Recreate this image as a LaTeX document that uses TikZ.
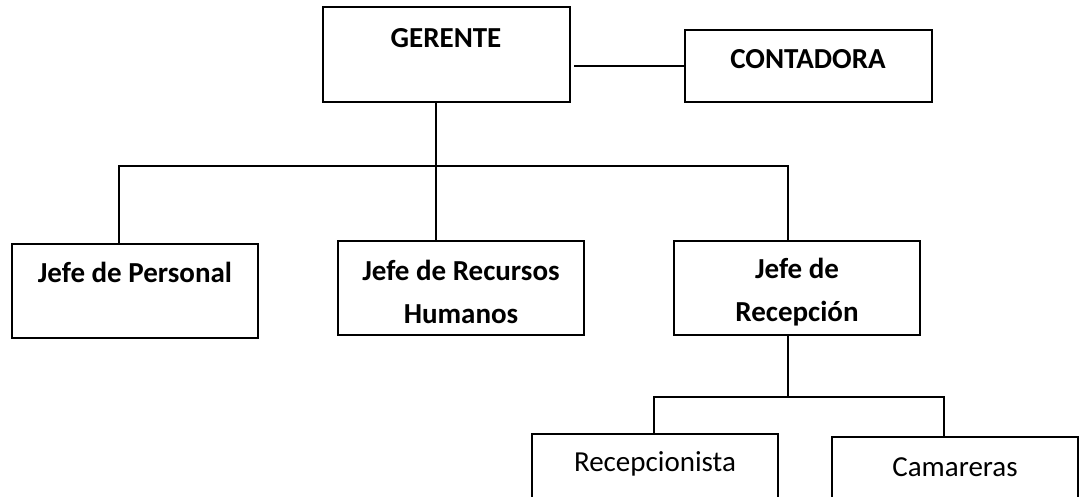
\documentclass[tikz,border=0pt]{standalone}
\usepackage{fontspec}
\setmainfont{Carlito}
\begin{document}
\begin{tikzpicture}[x=1pt,y=-1pt,
  box/.style={draw=black,line width=2pt,rectangle,inner sep=0pt,outer sep=0pt,anchor=north west},
  conn/.style={draw=black,line width=1.6pt},
  bt/.style={font=\fontsize{29}{43}\selectfont\bfseries,align=center,inner sep=0pt},
  rt/.style={font=\fontsize{29}{43}\selectfont,align=center,inner sep=0pt}]
\useasboundingbox (0,0) rectangle (1082,497);
\clip (0,0) rectangle (1082,497);
% boxes
\node[box,minimum width=247pt,minimum height=95pt] (ger) at (323,7) {};
\node[box,minimum width=247pt,minimum height=72pt] (cont) at (685,30) {};
\node[box,minimum width=246pt,minimum height=94pt] (pers) at (12,244) {};
\node[box,minimum width=246pt,minimum height=94pt] (rrhh) at (338,241) {};
\node[box,minimum width=246pt,minimum height=94pt] (recp) at (674,241) {};
\node[box,minimum width=246pt,minimum height=90pt] (rcst) at (532,434) {};
\node[box,minimum width=246pt,minimum height=90pt] (cama) at (832,437) {};
% texts
\node[bt] (tger) at (446,38) {GERENTE};
\node[bt] (tcont) at (808,59) {CONTADORA};
\node[bt] (tpers) at (135,272) {Jefe de Personal};
\node[bt] (trrhh) at (461,292) {Jefe de Recursos\\Humanos};
\node[bt] (trecp) at (797,292) {Jefe de\\Recepción};
\node[rt] (trcst) at (655,464) {Recepcionista};
\node[rt] (tcama) at (955,467) {Camareras};
% connector coordinates
\coordinate (gc) at (574,66);
\coordinate (gb) at (ger.south -| 436,0);
\coordinate (bl) at (119,166);
\coordinate (br) at (788,166);
\coordinate (rb) at (recp.south -| 788,0);
\coordinate (rm) at (788,397);
\coordinate (sl) at (654,397);
\coordinate (sr) at (944,397);
% connectors
\draw[conn] (gc) -- (cont.west);
\draw[conn] (gb) -- (rrhh.north -| gb);
\draw[conn] (pers.north -| bl) -- (bl) -- (br) -- (recp.north -| br);
\draw[conn] (rb) -- (rm);
\draw[conn] (rcst.north -| sl) -- (sl) -- (sr) -- (cama.north -| sr);
\end{tikzpicture}
\end{document}
